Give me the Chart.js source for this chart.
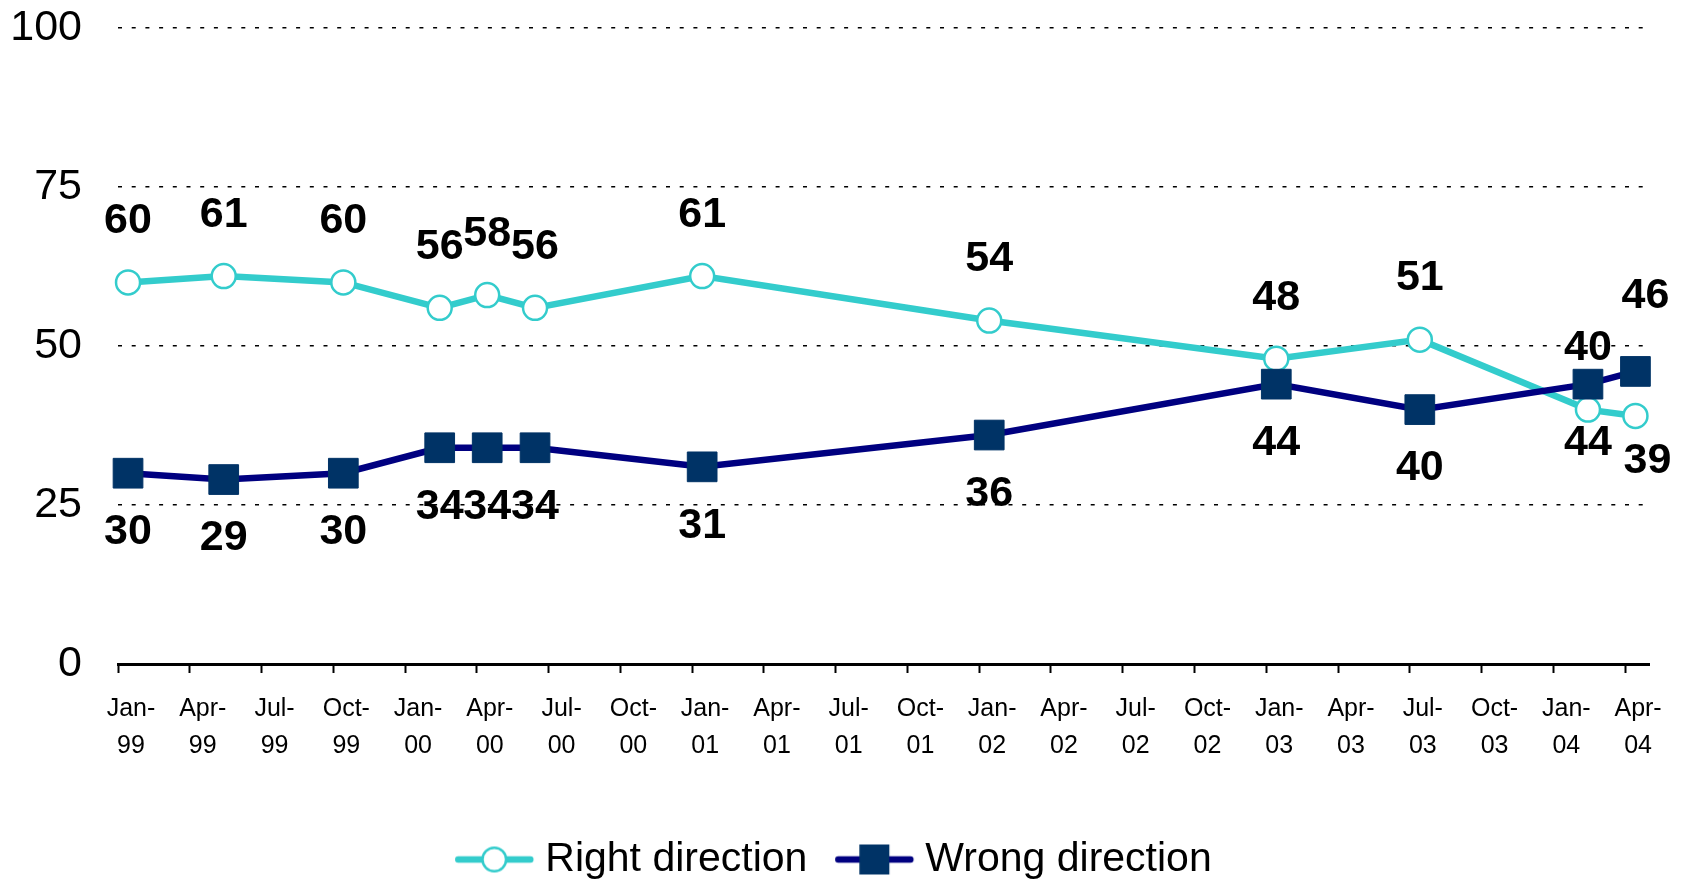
<!DOCTYPE html>
<html>
<head>
<meta charset="utf-8">
<script src="https://cdn.jsdelivr.net/npm/chart.js@4/dist/chart.umd.min.js"></script>
<style>
  html, body { margin: 0; padding: 0; background: #fff; }
  #wrap { width: 1687px; height: 883px; position: relative; }
</style>
</head>
<body>
<div id="wrap"><canvas id="c"></canvas></div>
<script>
// ---- data ----
const surveyDates = ["1999-01-14","1999-05-14","1999-10-14","2000-02-14","2000-04-14","2000-06-14",
                     "2001-01-14","2002-01-14","2003-01-14","2003-07-14","2004-02-14","2004-04-14"];
const rightDirection = [60, 61, 60, 56, 58, 56, 61, 54, 48, 51, 40, 39];
const wrongDirection = [30, 29, 30, 34, 34, 34, 31, 36, 44, 40, 44, 46];
const seriesNames = ["Right direction", "Wrong direction"];
const xTickLabels = ["Jan-99","Apr-99","Jul-99","Oct-99","Jan-00","Apr-00","Jul-00","Oct-00",
                     "Jan-01","Apr-01","Jul-01","Oct-01","Jan-02","Apr-02","Jul-02","Oct-02",
                     "Jan-03","Apr-03","Jul-03","Oct-03","Jan-04","Apr-04"];
const yTickValues = [0, 25, 50, 75, 100];

// month index since Jan-99 (fractional within month)
const START_YEAR = 1999;
function monthPos(s) {
  const [y, m, d] = s.split('-').map(Number);
  const dim = new Date(y, m, 0).getDate();
  return (y - START_YEAR) * 12 + (m - 1) + (d - 1) / dim;
}
const xTickValues = xTickLabels.map((_, i) => i * 3);
const axisMaxMonths = xTickLabels.length * 3 - 2; // through end of Apr-04

const rightPts = surveyDates.map((d, i) => ({ x: monthPos(d), y: rightDirection[i] }));
const wrongPts = surveyDates.map((d, i) => ({ x: monthPos(d), y: wrongDirection[i] }));

const TURQ = '#33CCCC', NAVY = '#000080', SQ = '#003366';
const SANS = "'Liberation Sans', Arial, sans-serif";

function legendImage(kind) {
  const c = document.createElement('canvas');
  c.width = 200; c.height = 34;
  const g = c.getContext('2d');
  const o = 74.25, cy = 17;
  g.lineCap = 'round';
  g.lineWidth = 6.5;
  g.strokeStyle = kind === 'circle' ? TURQ : NAVY;
  g.beginPath(); g.moveTo(o + 3, cy); g.lineTo(o + 75, cy); g.stroke();
  if (kind === 'circle') {
    g.beginPath(); g.arc(o + 39, cy, 11.8, 0, Math.PI * 2);
    g.fillStyle = '#fff'; g.fill();
    g.lineWidth = 2.5; g.strokeStyle = TURQ; g.stroke();
  } else {
    g.fillStyle = SQ; g.fillRect(o + 39 - 15, cy - 15, 30, 30);
  }
  return c;
}
const legendImgs = [legendImage('circle'), legendImage('rect')];

const valueLabels = {
  id: 'valueLabels',
  afterDatasetsDraw(chart, args, opts) {
    const ctx = chart.ctx;
    ctx.save();
    ctx.font = opts.font;
    ctx.fillStyle = '#000';
    ctx.textAlign = 'center';
    ctx.textBaseline = 'middle';
    chart.data.datasets.forEach((ds, di) => {
      const meta = chart.getDatasetMeta(di);
      meta.data.forEach((pt, j) => {
        let dx = 0, dy = opts.dy[di];
        const ov = opts.overrides.find(o => o.ds === di && o.i === j);
        if (ov) { dx = ov.dx; dy = ov.dy; }
        ctx.fillText(String(ds.data[j].y), pt.x + dx, pt.y + dy);
      });
    });
    ctx.restore();
  }
};

new Chart(document.getElementById('c'), {
  type: 'line',
  data: {
    datasets: [
      {
        label: seriesNames[0], data: rightPts, order: 1,
        borderColor: TURQ, borderWidth: 6.5, tension: 0,
        pointStyle: 'circle', pointRadius: 12, pointBorderWidth: 2.5,
        pointBackgroundColor: '#fff', pointBorderColor: TURQ, clip: false
      },
      {
        label: seriesNames[1], data: wrongPts, order: 0,
        borderColor: NAVY, borderWidth: 6.5, tension: 0,
        pointStyle: 'rect', pointRadius: 21, pointBorderWidth: 1,
        pointBackgroundColor: SQ, pointBorderColor: SQ, clip: false
      }
    ]
  },
  options: {
    responsive: true, maintainAspectRatio: false, animation: false,
    layout: { padding: { left: 0, right: 38, top: 28, bottom: 0 } },
    scales: {
      x: {
        type: 'linear', min: 0, max: axisMaxMonths,
        afterBuildTicks: s => { s.ticks = xTickValues.map(v => ({ value: v })); },
        afterFit: s => { s.height = 165; },
        border: { display: true, color: '#000', width: 3 },
        grid: { display: true, drawOnChartArea: false, drawTicks: true, tickLength: 9, tickWidth: 2, tickColor: '#000' },
        ticks: {
          autoSkip: false, maxRotation: 0, minRotation: 0, padding: 17, labelOffset: 13,
          color: '#000', font: { family: SANS, size: 25, lineHeight: 1.5 },
          callback: v => { const l = xTickLabels[xTickValues.indexOf(v)]; if (!l) return ''; const p = l.split('-'); return [p[0] + '-', p[1]]; }
        }
      },
      y: {
        min: 0, max: 100,
        afterBuildTicks: s => { s.ticks = yTickValues.map(v => ({ value: v })); },
        afterFit: s => { s.width = 118; },
        border: { display: false, dash: [4, 9.7] },
        grid: {
          drawTicks: true, tickLength: 36, tickColor: 'rgba(0,0,0,0)', lineWidth: 1.6,
          color: c => c.tick && c.tick.value === 0 ? 'rgba(0,0,0,0)' : '#000'
        },
        ticks: { padding: 0, color: '#000', font: { family: SANS, size: 43 } }
      }
    },
    plugins: {
      tooltip: { enabled: false },
      legend: {
        position: 'bottom', maxHeight: 54,
        labels: {
          usePointStyle: true, pointStyleWidth: 87.5, padding: 10, color: '#000',
          font: { family: SANS, size: 41 },
          sort: (a, b) => a.datasetIndex - b.datasetIndex,
          generateLabels: chart => Chart.defaults.plugins.legend.labels.generateLabels(chart)
            .map(it => Object.assign(it, { pointStyle: legendImgs[it.datasetIndex] }))
        }
      },
      valueLabels: {
        font: "bold 43px " + SANS,
        dy: [-61, 59],
        overrides: [ { ds: 0, i: 11, dx: 12, dy: 45 }, { ds: 1, i: 11, dx: 10, dy: -75 } ]
      }
    }
  },
  plugins: [valueLabels]
});
</script>
</body>
</html>
